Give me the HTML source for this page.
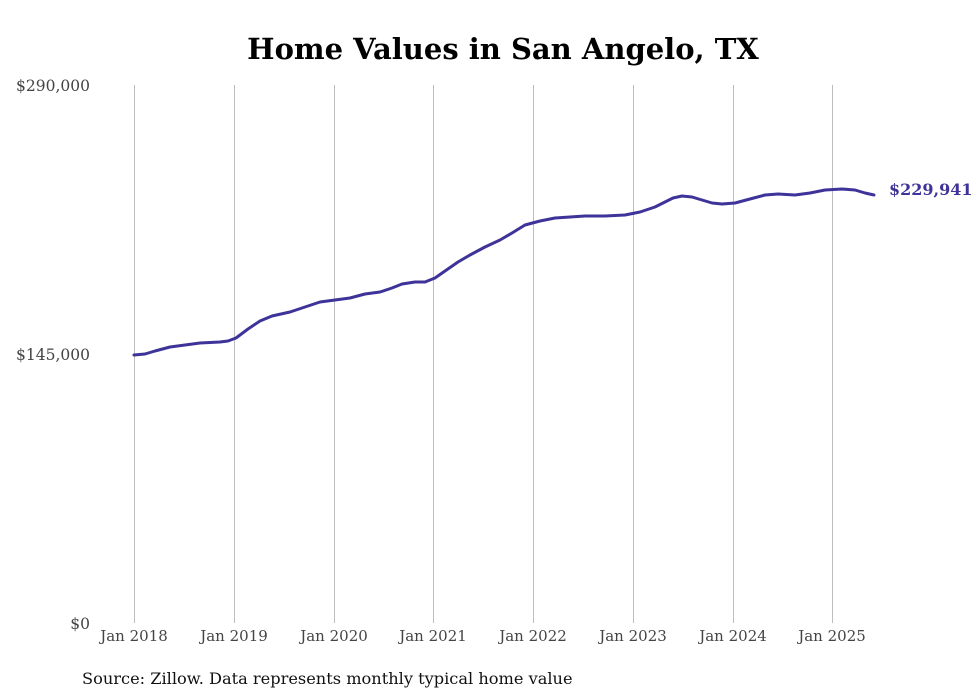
<!DOCTYPE html>
<html><head><meta charset="utf-8"><style>
html,body{margin:0;padding:0;background:#fff;}
svg{display:block;}
text{font-family:"DejaVu Serif","Liberation Serif",serif;}
</style></head><body>
<svg width="980" height="699" viewBox="0 0 980 699" xmlns="http://www.w3.org/2000/svg">
<rect width="980" height="699" fill="#fff"/>
<text x="503" y="59" text-anchor="middle" font-size="29" font-weight="bold" fill="#000">Home Values in San Angelo, TX</text>
<g stroke="#bdbdbd" stroke-width="1">
<line x1="134.5" y1="85" x2="134.5" y2="623"/>
<line x1="234.5" y1="85" x2="234.5" y2="623"/>
<line x1="334.5" y1="85" x2="334.5" y2="623"/>
<line x1="433.5" y1="85" x2="433.5" y2="623"/>
<line x1="533.5" y1="85" x2="533.5" y2="623"/>
<line x1="633.5" y1="85" x2="633.5" y2="623"/>
<line x1="733.5" y1="85" x2="733.5" y2="623"/>
<line x1="832.5" y1="85" x2="832.5" y2="623"/>
</g>
<g font-size="15.5" fill="#444">
<text x="90" y="91" text-anchor="end">$290,000</text>
<text x="90" y="360" text-anchor="end">$145,000</text>
<text x="90" y="629" text-anchor="end">$0</text>
</g>
<g font-size="15" fill="#444" text-anchor="middle">
<text x="134" y="641">Jan 2018</text>
<text x="234" y="641">Jan 2019</text>
<text x="334" y="641">Jan 2020</text>
<text x="433" y="641">Jan 2021</text>
<text x="533" y="641">Jan 2022</text>
<text x="633" y="641">Jan 2023</text>
<text x="733" y="641">Jan 2024</text>
<text x="832" y="641">Jan 2025</text>
</g>
<polyline fill="none" stroke="#3d3399" stroke-width="3" stroke-linejoin="round" stroke-linecap="round"
points="134,355 145,354 155,351 170,347 185,345 200,343 220,342 228,341 236,338 248,329 260,321 272,316 290,312 305,307 320,302 335,300 350,298 365,294 380,292 392,288 402,284 415,282 425,282 435,278 445,271 458,262 470,255 485,247 500,240 512,233 525,225 540,221 555,218 570,217 585,216 605,216 625,215 640,212 655,207 665,202 673,198 682,196 692,197 702,200 712,203 722,204 735,203 750,199 765,195 778,194 795,195 810,193 825,190 842,189 855,190 865,193 874,195"/>
<text x="889" y="195" font-size="16" font-weight="bold" fill="#3d3399">$229,941</text>
<text x="82" y="684" font-size="16.2" fill="#111">Source: Zillow. Data represents monthly typical home value</text>
</svg>
</body></html>
